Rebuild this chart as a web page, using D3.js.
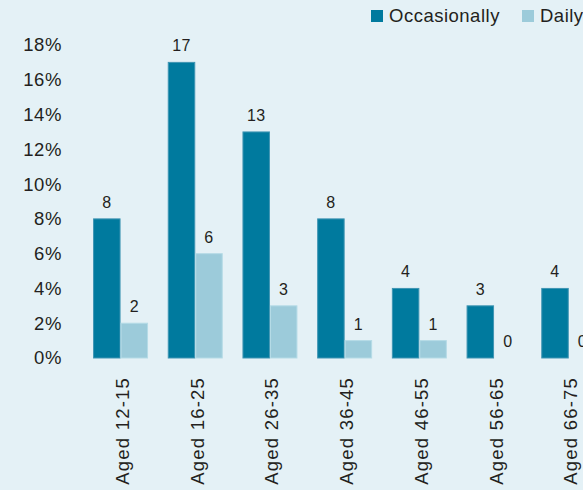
<!DOCTYPE html>
<html>
<head>
<meta charset="utf-8">
<script src="https://cdn.jsdelivr.net/npm/d3@7/dist/d3.min.js"></script>
<style>
  html, body { margin: 0; padding: 0; background: #e4f1f6; overflow: hidden; }
  svg { display: block; font-family: "Liberation Sans", Arial, Helvetica, sans-serif; }
</style>
</head>
<body>
<svg id="chart" width="583" height="490"></svg>
<script>
// Share of people by age group, occasional vs daily (%)
const categories = ["Aged 12-15", "Aged 16-25", "Aged 26-35", "Aged 36-45", "Aged 46-55", "Aged 56-65", "Aged 66-75"];
const seriesNames = ["Occasionally", "Daily"];
const occasionally = [8, 17, 13, 8, 4, 3, 4];
const daily = [2, 6, 3, 1, 1, 0, 0];
const yTicks = [0, 2, 4, 6, 8, 10, 12, 14, 16, 18];

const colors = { Occasionally: "#007a9e", Daily: "#9ccbda" };
const strokes = { Occasionally: "#3f95b3", Daily: "#b5dbe6" };
const textColor = "#231f20";

const svg = d3.select("#chart");
const W = 583, H = 490;

svg.append("rect").attr("width", W).attr("height", H).attr("fill", "#e4f1f6");

const y = d3.scaleLinear().domain([0, 18]).range([358, 45]);

const x = d3.scaleBand()
  .domain(categories)
  .range([83.2, 606.1])
  .paddingInner(0.264)
  .paddingOuter(0.132);

const xs = d3.scaleBand().domain(seriesNames).range([0, x.bandwidth()]);

const rows = categories.map((c, i) => ({ cat: c, values: [
  { key: "Occasionally", v: occasionally[i] },
  { key: "Daily", v: daily[i] }
]}));

// y axis labels
const yAxis = svg.append("g").attr("transform", "translate(62,0)")
  .call(d3.axisLeft(y).tickValues(yTicks).tickFormat(d => d + "%").tickSize(0).tickPadding(0));
yAxis.select(".domain").remove();
yAxis.selectAll("text")
  .attr("fill", textColor)
  .style("font-size", "18.5px")
  .style("letter-spacing", "0.6px")
  .style("font-family", "'Liberation Sans', Arial, sans-serif");

// bars
const groups = svg.append("g").selectAll("g").data(rows).join("g")
  .attr("transform", d => `translate(${x(d.cat)},0)`);

groups.selectAll("rect").data(d => d.values).join("rect")
  .attr("x", d => xs(d.key) + 0.5)
  .attr("width", xs.bandwidth() - 1)
  .attr("y", d => y(d.v))
  .attr("height", d => y(0) - y(d.v))
  .attr("fill", d => colors[d.key])
  .attr("stroke", d => d.v > 0 ? strokes[d.key] : "none")
  .attr("stroke-width", 1);

// value labels
groups.selectAll("text.val").data(d => d.values).join("text")
  .attr("class", "val")
  .attr("x", d => xs(d.key) + xs.bandwidth() / 2)
  .attr("y", d => y(d.v) - 11)
  .attr("text-anchor", "middle")
  .attr("fill", textColor)
  .style("font-size", "16px")
  .style("letter-spacing", "0.4px")
  .text(d => d.v);

// x axis labels, rotated
const xAxis = svg.append("g").attr("transform", "translate(0,377)")
  .call(d3.axisBottom(x).tickSize(0).tickPadding(0));
xAxis.select(".domain").remove();
xAxis.selectAll("text")
  .attr("fill", textColor)
  .attr("transform", "translate(2,0) rotate(-90)")
  .attr("x", 0)
  .attr("y", 0)
  .attr("dy", "0.35em")
  .attr("text-anchor", "end")
  .style("font-size", "18.5px")
  .style("letter-spacing", "1.2px")
  .style("font-family", "'Liberation Sans', Arial, sans-serif");

// legend
const legend = svg.append("g");
const legendItems = [
  { key: "Occasionally", x: 371 },
  { key: "Daily", x: 522 }
];
legendItems.forEach(it => {
  legend.append("rect")
    .attr("x", it.x).attr("y", 10)
    .attr("width", 12).attr("height", 12)
    .attr("fill", colors[it.key]);
  legend.append("text")
    .attr("x", it.x + 18).attr("y", 22)
    .attr("fill", textColor)
    .style("font-size", "18.5px")
    .style("letter-spacing", "0.5px")
    .text(it.key);
});
</script>
</body>
</html>
